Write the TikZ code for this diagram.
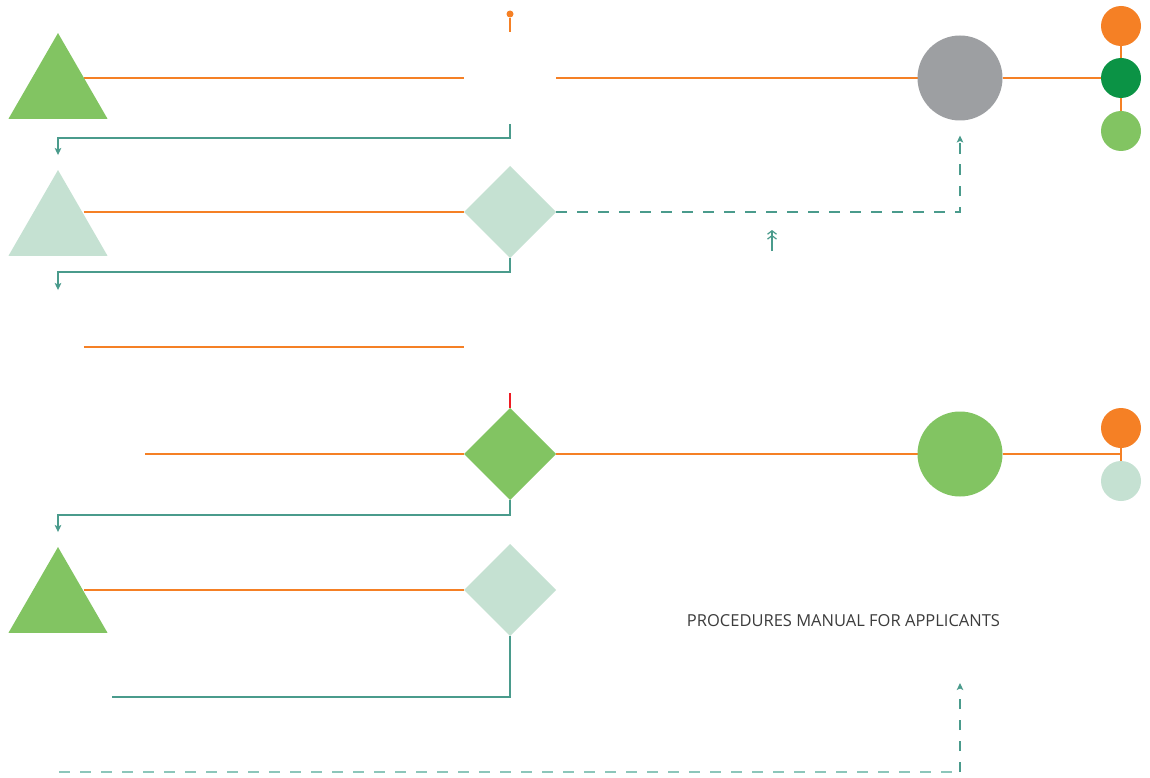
\documentclass[tikz,border=0pt]{standalone}
\usepackage{fontspec}
\setmainfont{Open Sans}
\usetikzlibrary{shapes.geometric,arrows.meta,backgrounds,calc}
\definecolor{lgreen}{RGB}{130,196,98}
\definecolor{pale}{RGB}{197,225,210}
\definecolor{dgreen}{RGB}{11,147,69}
\definecolor{orng}{RGB}{245,128,37}
\definecolor{grey}{RGB}{157,159,162}
\definecolor{teal2}{RGB}{74,155,140}
\definecolor{tealpale}{RGB}{140,198,186}
\definecolor{redl}{RGB}{237,28,36}
\definecolor{txt}{RGB}{60,60,60}
\begin{document}
\begin{tikzpicture}[x=1pt,y=-1pt,
 tri/.style={regular polygon, regular polygon sides=3, minimum size=114.3pt, inner sep=0pt, outer sep=0pt},
 dia/.style={diamond, minimum width=92pt, minimum height=92pt, inner sep=0pt, outer sep=0pt},
 bigc/.style={circle, minimum size=85pt, inner sep=0pt, outer sep=0pt},
 smallc/.style={circle, minimum size=40pt, inner sep=0pt, outer sep=0pt},
 oline/.style={draw=orng, line width=1.1pt},
 tline/.style={draw=teal2, line width=1.2pt},
 tarrow/.style={tline, -{Stealth[length=7pt,width=6.5pt,inset=1.5pt]}},
 tdash/.style={tline, dash pattern=on 10.5pt off 10.5pt},
 title/.style={font=\fontsize{16.5}{19}\selectfont, text=txt, inner sep=0pt},
]
\useasboundingbox (0,0) rectangle (1150,778);
% shapes
\node[tri, fill=lgreen] (t1) at (58,90.2) {};
\node[tri, fill=pale] (t2) at (58,227.2) {};
\node[tri] (t3) at (58,359.2) {};
\node[tri, fill=lgreen] (t4) at (58,604.2) {};
\node[dia] (d0) at (510,78) {};
\node[dia, fill=pale] (d1) at (510,212) {};
\node[dia] (d2) at (510,347) {};
\node[dia, fill=lgreen] (d3) at (510,454) {};
\node[dia, fill=pale] (d4) at (510,590) {};
\node[bigc, fill=grey] (c1) at (960,78) {};
\node[bigc, fill=lgreen] (c2) at (960,454) {};
\node[smallc, fill=orng] (s1) at (1121,26) {};
\node[smallc, fill=dgreen] (s2) at (1121,78) {};
\node[smallc, fill=lgreen] (s3) at (1121,131) {};
\node[smallc, fill=orng] (s4) at (1121,428) {};
\node[smallc, fill=pale] (s5) at (1121,481) {};
\node[circle, fill=orng, minimum size=7pt, inner sep=0pt] (dot) at (510,14) {};
\node[title] (ttl) at (843.5,621) {PROCEDURES MANUAL FOR APPLICANTS};
% helper coordinates
\coordinate (t1e) at ($(t1.corner 1)!0.525!(t1.corner 3)$);
\coordinate (t2e) at ($(t2.corner 1)!0.525!(t2.corner 3)$);
\coordinate (t3e) at ($(t3.corner 1)!0.525!(t3.corner 3)$);
\coordinate (t4e) at ($(t4.corner 1)!0.525!(t4.corner 3)$);
\coordinate (t2a) at ($(t2.corner 1)+(0,-15)$);
\coordinate (t3a) at ($(t3.corner 1)+(0,-12)$);
\coordinate (t4a) at ($(t4.corner 1)+(0,-15)$);
\coordinate (c1a) at ($(c1.south)+(0,15)$);
\coordinate (l4) at (145,454);
\coordinate (e5) at (112,697);
\coordinate (b0) at (59,772);
\coordinate (b1) at (960,772);
\coordinate (b2) at (960,683);
\coordinate (u0) at (772,251);
\coordinate (u1) at (772,230);
\begin{pgfonlayer}{background}
\fill[white] (0,0) rectangle (1150,778);
% row 1
\draw[oline] (dot) -- (d0.north);
\draw[oline] (t1e |- d0.west) -- (d0.west);
\draw[oline] (d0.east) -- (c1.west);
\draw[oline] (c1.east) -- (s2.west);
\draw[oline] (s1) -- (s3);
% row 2
\draw[oline] (t2e |- d1.west) -- (d1.west);
% row 3
\draw[oline] (t3e |- d2.west) -- (d2.west);
% row 4
\draw[oline] (l4) -- (d3.west);
\draw[oline] (d3.east) -- (c2.west);
\draw[oline] (c2.east) -- (c2.east -| s4);
\draw[oline] (s4) -- (s5);
% row 5
\draw[oline] (t4e |- d4.west) -- (d4.west);
\end{pgfonlayer}
% teal connectors
\draw[tarrow] (d0.south) -- ++(0,14) -| (t2a);
\draw[tarrow] (d1.south) -- ++(0,14) -| (t3a);
\draw[tarrow] (d3.south) -- ++(0,15) -| (t4a);
\draw[tline] (d4.south) |- (e5);
\draw[tdash, -{Stealth[length=7pt,width=6.5pt,inset=1.5pt]}] (d1.east) -| (c1a);
\draw[tline, -{Straight Barb[length=3.5pt,width=9pt] Straight Barb[length=3.5pt,width=9pt]}] (u0) -- (u1);
\draw[draw=redl, line width=1.1pt] (d2.south) -- (d3.north);
% bottom dashed
\draw[draw=tealpale, line width=2pt, dash pattern=on 10.5pt off 10.5pt] (b0) -- (b1);
\draw[tdash, -{Stealth[length=7pt,width=6.5pt,inset=1.5pt]}] (b1) -- (b2);
\end{tikzpicture}
\end{document}
